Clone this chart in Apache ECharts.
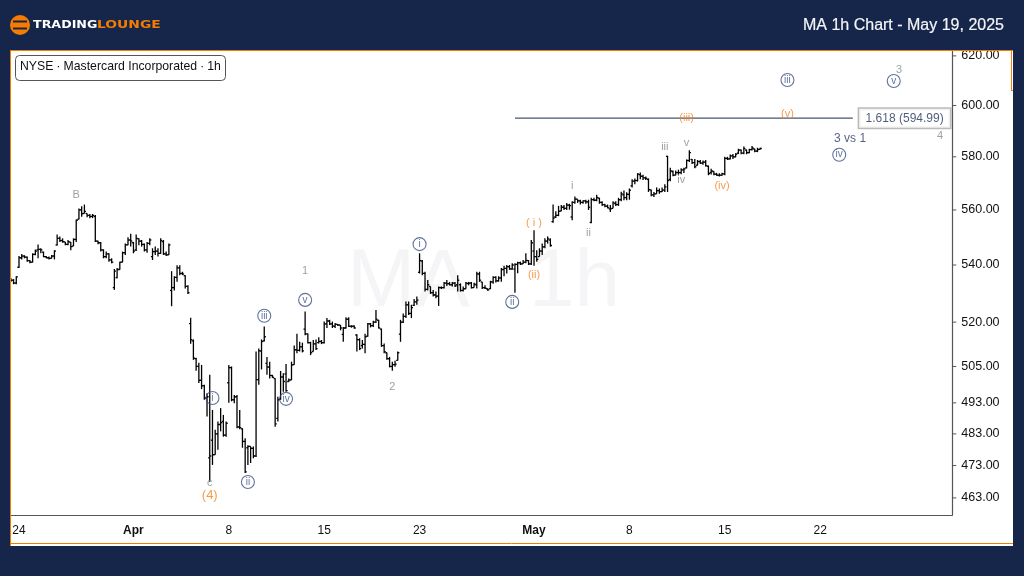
<!DOCTYPE html>
<html><head><meta charset="utf-8">
<style>html,body{margin:0;padding:0;background:#16264a}#c{width:1024px;height:576px}</style>
<script src="https://cdn.jsdelivr.net/npm/echarts@6/dist/echarts.min.js"></script>
</head><body><div id="c"></div>
<script>
// one row per session: 7 hourly bars
const opens=[534.8,534.6,533.6,
539.2,542.6,543.2,542.8,541.6,541,543.8,
545.4,545.6,544.6,543,542.6,542.4,543.2,
547.2,549.6,548.8,548.3,547.4,548.2,546.8,
549.2,556.6,560,558.7,558.7,558,557.6,
557.6,548.6,548,545.4,543,544,541.8,
532,535.5,538.4,541,544.4,547.2,549,
548,545.4,549.4,548.6,547.4,545.4,547.8,
543,544.8,545,544.2,548.4,544,543.6,
531,532,535.6,539,537,536.2,532.4,
519.5,513.6,507.6,505,500.4,498.6,494.6,
475.4,481,476.4,483,486,487,482.6,
499.6,504.6,494,495,485.2,484.6,480.6,
478.6,479,478.4,476,500.6,510.2,513.6,
506,504.8,502,501,488,494.2,501.5,
502.5,500,500.5,505.6,510.6,510.4,511.6,
517.6,516,513,510,512.6,513,513.4,
513,519.4,520.4,519.4,518.6,519.2,519,
515.8,518,521,518.6,518.6,515.6,514,
512,512.4,515.2,519.4,518.8,520,520.6,
517.6,512,509.6,507.6,505,505.6,507,
515.9,520,522,526,523,525.8,527,
537.4,541.4,537,531.4,532.4,530.2,529.4,
529,532,532,533.6,533.4,533,533.6,
533,533,531,531.6,533.4,533.6,532,
533,536.8,534,532,531.6,531.6,534,
535.6,534.4,535.4,538.4,538.8,539.4,538.6,
538.5,540.2,540.8,540.4,541,541.6,540.4,
545,543,543,545,546.6,548.6,549,
555.7,557.4,558,559.6,561,560.6,561.8,
557.4,562.8,564,563.4,562.8,563.4,563,
555.4,563.8,563.6,564.4,562.8,562,561.4,
560.4,560.6,562.4,562,563.8,565.6,564.6,
565.8,569,570.8,571,573.2,572.6,572,
571.4,567.4,565.6,566,567.2,566.8,567.4,
580.2,571.4,574.4,573,574,574,575,
575.8,578.6,579,577.8,576.8,578.2,577.6,
578,576.4,574,574.4,573.4,573,573,
573.4,579.4,579.2,580.4,580,581.4,582.6,
581.4,582.6,581.6,582.8,583,582.2,582.9];
const highs=[535.4,535,536,
543.2,543.9,543.5,543,541.8,544.2,545.6,
547.4,546,544.8,543.2,543,543.6,545.3,
551,550.3,549.6,548.3,549,548.3,549.6,
556.5,560.5,561.4,562,558.7,558.5,558.5,
558.1,548.7,548.3,545.6,544.8,544.2,542.4,
538.6,538.9,541.2,544.8,547.7,550,551.3,
548.3,551,549.6,549,547.7,548.3,549.6,
546,546.6,546,549.6,549,544.8,547.7,
537.8,536,539.9,539.9,537.6,536.4,532.8,
521.5,514.1,507.9,506.2,505.5,498.9,496.1,
502.2,490.7,484.3,487,491.3,489.1,487,
505.5,505,495.6,495.6,490.7,484.8,481.6,
479.4,479,479,510,511,514.1,518.5,
508.2,506.6,502.2,501.1,495,503.5,502.7,
505.8,501,506.6,512,516,513.3,513,
523.7,516.1,513.3,513.9,514.1,514.8,513.9,
520.2,521.4,520.8,520.2,519.7,519.4,519,
518.3,521.7,521.7,518.9,518.9,515.9,514.5,
513.9,516,519.7,519.7,520.5,524.2,520.8,
517.8,512.7,509.7,508.2,506.6,506.9,510,
520.8,523,527.1,527.1,526,528,528.9,
544.2,541.8,537.6,534.7,532.4,531.2,530.6,
532.4,532.4,534,534.7,534,534,534,
536.4,533.5,532.4,534,534,534,533.7,
537.6,537.6,534,532.8,531.7,534.4,536,
536,536,538.9,539.7,540,540,540.6,
540.6,541.2,541.2,541.8,544.2,541.8,549,
552.5,545.3,546,547.7,549.6,550.3,549.6,
562,559.5,561.5,561.8,561.8,562.6,562.3,
563.2,565,564,563.8,563.6,563.8,563.8,
564.5,564.5,565.7,564.5,563.2,562.3,562,
561.8,563.2,563.2,564.5,566.8,567.2,566.6,
568,571.5,571.8,573.8,574,573.2,572.5,
571.8,567.6,566.7,568.4,568,568.4,569.6,
580.4,575.8,574.8,574.8,575.1,575.6,575.8,
579,582.5,579.2,579.2,578.8,578.8,578.6,
578.8,576.7,575.5,574.5,573.9,573.7,573.9,
580,580,580.9,581.1,581.4,583.1,582.8,
584,582.8,583.1,584.2,583.1,583.5,583.5];
const lows=[534,533.2,533.2,
538.9,542,542.4,541.2,540.6,540.9,543.5,
542.4,544.2,542.8,542.4,542,542.4,542,
547,548.3,548,547.1,547.1,545.3,546.8,
548.3,556.5,557.5,558.7,557.3,556.9,557,
548.3,547.5,544.8,542.4,542.4,541.2,540.6,
531.2,535.3,538.3,541,543.6,547.1,546.6,
544.2,545,547.1,546.6,544.8,544.4,547.1,
541.8,543.6,543,544,543.6,543.2,543.6,
525.5,531,534.1,536.4,536.4,531.7,529.8,
512.6,507.2,503.6,499.5,497.5,494,488.6,
468,473.2,476.4,478,483.8,482.1,482.1,
493,493.5,492.9,484.8,484.5,478.6,470.7,
473.2,473.8,475.3,475.7,498.9,504,513.4,
502.2,501,501.2,485.3,487,494,496.6,
496.6,499.8,500.5,505.6,509.4,510,509.7,
515.5,512.7,508.8,510,510.5,512.7,512.5,
512.7,518,519,518,518,518.7,517.2,
513.3,517.8,518.3,518.1,517.8,510,510.5,
511,509.4,515,518.2,518.3,519.7,517.8,
511.6,509.4,507.2,504.7,503.6,504.9,507,
513.3,519.7,521.4,522.5,521.4,525.6,526,
537,536.4,530.6,531,529.8,528.9,528.3,
525.6,531.5,531.7,532.6,532.8,532.4,532.2,
530.6,530.6,530.6,531.6,532.8,531.7,532,
531.7,534,531.5,531.5,530.9,531.5,533.4,
533.8,534.1,534.1,536,537,538.3,538.3,
530.2,537.1,540,540.4,540.6,540,540,
539.7,541.2,543,543.6,546,547.7,546.6,
555.3,557,557.7,559.5,560,560,560.1,
556.2,562.3,562.6,562,562.3,562.3,560,
555.1,563.2,563.2,562.3,561.5,561,560.6,
559.2,560.6,561.5,561.5,563.2,563.6,563.6,
563.8,568.4,569.6,570.6,571.5,571.2,571.2,
566.7,565.1,564.8,566,566,566.7,566.7,
566.7,570.7,572.6,573,573.2,573.4,573.8,
575.6,578,577.3,575.6,576.7,577.3,577,
576.3,573,573.3,573,572.8,572.5,572.8,
573,578.8,579,579.2,579.8,581.1,581,
581,581,581.4,582.4,581.8,581.8,582.8];
const closes=[534.6,533.6,535.8,
542.6,543.2,542.8,541.6,541,543.8,545,
545.6,545.4,543,542.6,542.4,543.2,545,
549.6,548.8,548.4,547.4,548.4,546.6,549.2,
556.2,560,558.6,559.5,558,557.6,558,
548.6,548,545.4,543,544,541.8,541,
537.8,538.4,541,544.4,547.2,549,548.6,
545,549.6,548.6,547.4,545.4,547.8,549,
544.8,545,544.2,548.8,544,543.6,547.2,
532,535.6,539,537,536.8,532.4,530.2,
514,507.8,505,500.4,498.6,494.6,495,
476,476.4,483,486,486.6,482.6,486.4,
504.6,494,495,485.2,485,480.6,471,
479,478.4,476,500.6,510.2,513.4,515,
504.8,502,501.4,486.2,494,501.5,500,
497,500.5,505.5,510.6,510.4,511.6,510.2,
516,513,509.6,512.6,511,513.4,513,
519.4,520.4,519.4,518.6,519.2,519,518,
518,521,518.6,518.6,518,514,511,
512.4,515,519.4,518.8,520,521,518,
512,510,507.6,505,505.6,505.8,509.6,
520,522,526,523,525,527,527.6,
541.6,537,531.4,533,530.2,529.4,529,
532,532,533.6,533.4,533,533.6,532.6,
534.6,531,531.6,533.6,533.6,532,533.2,
536.8,534.6,532,531.8,531.2,534,535.6,
534.4,535.4,538.4,538.8,539.4,538.6,540,
540.2,540.8,540.4,541,541.6,540.4,548,
543,542,545,546.4,548.6,549.4,547,
557,558,559.5,561,560.6,561.8,561.6,
562.8,564,563.4,562.8,563.4,563,561,
563.8,563.6,564.6,562.8,562,561.4,560.8,
560.4,562.6,562,563.8,566,564.6,565.8,
567.4,570.8,571,573.4,572.6,572,571.8,
567.6,565.6,566,567.2,566.8,567.4,568.6,
571,574.6,573,574,574,575,575.4,
578.6,581.6,577.8,576.2,578.2,577.6,578,
576.6,573.6,574.6,573.4,573,573,573.6,
579.4,579.2,580.4,580,581,582.6,581.4,
583.2,581.6,582.8,583.4,582.2,582.8,583.2];

const barCount=346;
const categories=Array.from({length:barCount},(_,i)=>String(i));
const xTickIndex=[3,45,80,115,150,192,227,262,297];
const xTickLabel=['24','Apr','8','15','23','May','8','15','22'];
const yTicks=[463,473,483,493,505,520,540,560,580,600,620];

const fibLevel=594.99;
const fibFrom=185, fibTo=309;
const fibLabel='1.618 (594.99)';

const grayMarks=[['B',24,565.6],['1',108,537.9],['2',140,498.2],['c',73,467.6],['3',326,614.3],['4',341,588],
 ['i',206,569],['ii',212,551.5],['iii',240,583.7],['iv',246,571.2],['v',248,585.2]];
const navyCircles=[['i',150,547.5],['ii',184,527],['v',108,527.7],['iii',93,522.2],['i',74,494.6],['iv',101,494.3],
 ['ii',87,467.9],['iii',285,610.2],['v',324,609.8],['iv',304,580.8]];
const orangeMarks=[['( i )',192,555.2],['(ii)',192,536.4],['(iii)',248,595.1],['(iv)',261,568.9],['(v)',285,596.7]];
const fourMark=[['(4)',73,463.9]];
const noteMark=[['3 vs 1',308,586.9]];

const NAVY='#16264a',ORANGE='#f57c00',INK='#3a4f80',GRAY='#84888f',SANS='"Liberation Sans",Arial,sans-serif';
const bars=categories.slice(0,opens.length).map((_,i)=>[i,opens[i],highs[i],lows[i],closes[i]]);

function textSeries(data,color,size){return {type:'scatter',data,symbolSize:0,silent:true,z:6,
 label:{show:true,position:'inside',formatter:p=>p.data[0],color,fontSize:size,fontFamily:SANS},
 encode:{x:1,y:2}};}

const chart=echarts.init(document.getElementById('c'),null,{renderer:'canvas',width:1024,height:576});
chart.setOption({
 animation:false,backgroundColor:NAVY,
 grid:{left:9.46,top:51,width:942.85,height:464,containLabel:false},
 xAxis:{type:'category',data:categories,boundaryGap:true,
  axisLine:{lineStyle:{color:'#555',width:1.2}},axisTick:{show:false},splitLine:{show:false},
  axisLabel:{margin:10,interval:i=>xTickIndex.includes(i),hideOverlap:false,fontFamily:SANS,fontSize:12,color:'#111',
   formatter:(v,i)=>{const k=xTickLabel[xTickIndex.indexOf(i)]||'';return (k==='Apr'||k==='May')?'{b|'+k+'}':k;},
   rich:{b:{fontWeight:'bold',fontSize:12,fontFamily:SANS,color:'#111'}}}},
 yAxis:{type:'log',logBase:Math.E,position:'right',min:457.8,max:622,
  axisLine:{show:true,lineStyle:{color:'#555',width:1.2}},
  axisTick:{show:false},minorTick:{show:false},splitLine:{show:false},
  axisLabel:{margin:9,padding:[4,0,0,0],fontFamily:SANS,fontSize:12.5,color:'#111',customValues:yTicks,formatter:v=>Number(v).toFixed(2)}},
 graphic:[
  {type:'rect',z:0,shape:{x:10,y:50,width:1003,height:496},style:{fill:'#fff'}},
  {type:'text',z:1,x:347,y:242,style:{text:'MA',fontFamily:SANS,fontSize:82,fill:'#f5f5f7'}},
  {type:'text',z:1,x:529,y:242,style:{text:'1h',fontFamily:SANS,fontSize:82,fill:'#f5f5f7'}},
  {type:'rect',z:50,shape:{x:0,y:44,width:10,height:510},style:{fill:NAVY}},
  {type:'line',z:51,shape:{x1:10.5,y1:50.5,x2:10.5,y2:546},style:{stroke:ORANGE,lineWidth:1}},
  {type:'line',z:51,shape:{x1:10,y1:50.5,x2:1013,y2:50.5},style:{stroke:ORANGE,lineWidth:1.2}},
  {type:'line',z:51,shape:{x1:10,y1:543.5,x2:1013,y2:543.5},style:{stroke:ORANGE,lineWidth:1}},
  {type:'line',z:51,shape:{x1:1011.5,y1:50,x2:1011.5,y2:90},style:{stroke:ORANGE,lineWidth:1}},
  {type:'line',z:51,shape:{x1:1011,y1:90.5,x2:1013,y2:90.5},style:{stroke:ORANGE,lineWidth:1}},
  {type:'rect',z:40,shape:{x:15.5,y:55.5,width:210,height:25,r:4},style:{fill:'#fff',stroke:'#555',lineWidth:1}},
  {type:'text',z:41,x:20,y:61,style:{text:'NYSE ∙ Mastercard Incorporated ∙ 1h',fontFamily:SANS,fontSize:12.25,fill:'#111'}},
  {type:'text',z:41,x:803,y:18,style:{text:'MA 1h Chart - May 19, 2025',fontFamily:SANS,fontSize:16,fontWeight:'500',fill:'#f4f5f7',stroke:'#f4f5f7',lineWidth:0.2}},
  {type:'circle',z:41,shape:{cx:20,cy:25,r:10},style:{fill:ORANGE}},
  {type:'rect',z:42,shape:{x:13,y:20.5,width:14,height:2},style:{fill:NAVY}},
  {type:'rect',z:42,shape:{x:13,y:27.5,width:14,height:2},style:{fill:NAVY}},
  {type:'text',z:41,x:33,y:20,scaleX:1.15,style:{text:'TRADING',fontFamily:'"DejaVu Sans"',fontWeight:'bold',fontSize:11,fill:'#fff'}},
  {type:'text',z:41,x:97,y:20,scaleX:1.26,style:{text:'LOUNGE',fontFamily:'"DejaVu Sans"',fontWeight:'bold',fontSize:11,fill:ORANGE}}
 ],
 series:[
  {type:'custom',data:bars,clip:true,z:3,silent:true,
   encode:{x:0,y:[1,2,3,4]},
   renderItem:(params,api)=>{
    const x=api.coord([api.value(0),api.value(1)])[0];
    const yo=api.coord([api.value(0),api.value(1)])[1],yh=api.coord([api.value(0),api.value(2)])[1],
          yl=api.coord([api.value(0),api.value(3)])[1],yc=api.coord([api.value(0),api.value(4)])[1];
    const st={stroke:'#000',lineWidth:1.3};
    return {type:'group',children:[
     {type:'line',shape:{x1:x,y1:yh,x2:x,y2:yl},style:st},
     {type:'line',shape:{x1:x-1.6,y1:yo,x2:x,y2:yo},style:st},
     {type:'line',shape:{x1:x,y1:yc,x2:x+1.6,y2:yc},style:st}]};
   }},
  {type:'custom',data:yTicks.map(v=>[barCount-1,v]),clip:false,z:3,silent:true,encode:{x:0,y:1},
   renderItem:(params,api)=>{
    const cs=params.coordSys,r=cs.x+cs.width,y=api.coord([api.value(0),api.value(1)])[1];
    return {type:'line',shape:{x1:r,y1:y,x2:r+4,y2:y},style:{stroke:'#555',lineWidth:1}};
   }},
  {type:'line',data:[[fibFrom,fibLevel],[fibTo,fibLevel]],showSymbol:false,silent:true,z:4,
   lineStyle:{color:'#4a5570',width:1.2}},
  {type:'scatter',data:[[328,fibLevel]],symbolSize:0,silent:true,z:5,
   label:{show:true,position:'inside',formatter:fibLabel,color:'#1f2f55',fontFamily:SANS,fontSize:12,
    backgroundColor:'#fff',borderColor:'#aaa',borderWidth:1.5,width:91,height:19,lineHeight:19,align:'center',verticalAlign:'middle'}},
  textSeries(grayMarks,GRAY,11),
  textSeries(orangeMarks,'#f5821a',11),
  textSeries(fourMark,'#f5821a',13),
  textSeries(noteMark,'#2c3a63',12),
  {type:'scatter',data:navyCircles,encode:{x:1,y:2},symbol:'circle',symbolSize:13,silent:true,z:6,
   itemStyle:{color:'rgba(255,255,255,0)',borderColor:INK,borderWidth:1.1},
   label:{show:true,position:'inside',formatter:p=>p.data[0],color:INK,fontSize:10,fontFamily:SANS}}
 ]
});
</script></body></html>
